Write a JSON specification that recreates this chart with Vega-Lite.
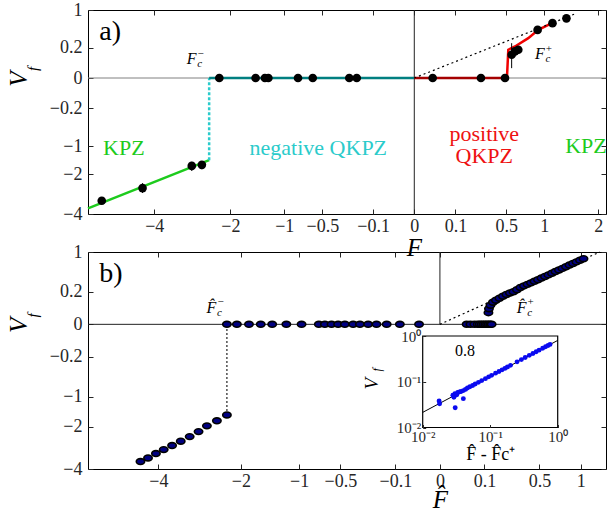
{
  "$schema": "https://vega.github.io/schema/vega-lite/v6.json",
  "padding": {"left": 6, "top": 0, "right": 0, "bottom": 0},
  "background": "white",
  "spacing": 38,
  "bounds": "flush",
  "config": {
    "font": "Liberation Serif",
    "view": {"stroke": "black", "strokeWidth": 1},
    "axis": {"grid": false, "domain": false, "labelFont": "Liberation Serif", "labelFontSize": 18, "labelColor": "#262626", "tickColor": "#262626", "tickSize": -5, "labelPadding": 11, "titleFont": "Liberation Serif", "titleFontStyle": "italic", "titleFontWeight": "normal", "titleColor": "black", "labelFlush": false, "labelOverlap": false, "labelBound": false},
    "style": {"guide-label": {"font": "Liberation Serif"}, "guide-title": {"font": "Liberation Serif"}},
    "text": {"font": "Liberation Serif"}
  },
  "datasets": {
    "a_zero": [{"x": -6.3, "y": 0}, {"x": 2.175, "y": 0}],
    "a_vline": [{"x": 0, "y": -4, "y2": 1}],
    "a_green": [{"x": -6.3, "y": -3.68}, {"x": -2.49, "y": -1.46}],
    "a_cyanv": [{"x": -2.49, "y": -1.46, "y2": 0}],
    "a_teal": [{"x": -2.49, "y": 0}, {"x": 0, "y": 0}],
    "a_redh": [{"x": 0, "y": 0}, {"x": 0.508, "y": 0}],
    "a_redc": [{"x": 0.508, "y": 0}, {"x": 0.523, "y": 0.173}, {"x": 0.6, "y": 0.215}, {"x": 0.769, "y": 0.343}, {"x": 0.91, "y": 0.502}, {"x": 1.171, "y": 0.689}],
    "a_diag": [{"x": 0, "y": 0}, {"x": 1.56, "y": 0.906}],
    "a_err": [{"x": -4.37, "y": -2.39, "y2": -2.86}, {"x": -2.93, "y": -1.52, "y2": -1.87}, {"x": -2.67, "y": -1.5, "y2": -1.8}, {"x": 0.561, "y": 0.021, "y2": 0.262}],
    "a_pts": [
      {"x": -5.78, "y": -3.26}, {"x": -4.37, "y": -2.62}, {"x": -2.93, "y": -1.67}, {"x": -2.67, "y": -1.63},
      {"x": -2.25, "y": 0}, {"x": -1.49, "y": 0}, {"x": -1.32, "y": 0}, {"x": -1.26, "y": 0}, {"x": -0.8, "y": 0},
      {"x": -0.61, "y": 0}, {"x": -0.25, "y": 0}, {"x": -0.196, "y": 0}, {"x": 0.02, "y": 0}, {"x": 0.263, "y": 0},
      {"x": 0.487, "y": 0}, {"x": 0.561, "y": 0.117}, {"x": 0.6, "y": 0.153}, {"x": 0.64, "y": 0.173},
      {"x": 0.9, "y": 0.5}, {"x": 1.13, "y": 0.65}, {"x": 1.37, "y": 0.77}
    ],
    "a_F": [{"x": -2.935, "y": 0.075, "sign": "−"}, {"x": 0.935, "y": 0.1255, "sign": "+"}],
    "a_regions": [
      {"x": -4.99, "y": -1.05, "label": "KPZ", "kind": "KPZ"},
      {"x": -0.545, "y": -1.05, "label": "negative QKPZ", "kind": "negative"},
      {"x": 0.29, "y": -0.687, "label": "positive", "kind": "positive"},
      {"x": 0.29, "y": -1.31, "label": "QKPZ", "kind": "positive"},
      {"x": 1.745, "y": -1.0, "label": "KPZ", "kind": "KPZ"}
    ],
    "a_tag": [{"x": -5.87, "y": 0.467, "label": "a)"}],
    "a_vlab": [{"x": -6.3, "y": 0}],
    "b_zero": [{"x": -6.25, "y": 0}, {"x": 1.392, "y": 0}],
    "b_vline": [{"x": 0, "y": 0, "y2": 1}],
    "b_dotv": [{"x": -2.29, "y": -1.57, "y2": 0}],
    "b_diag": [{"x": 0, "y": 0}, {"x": 1.29, "y": 1.0}],
    "b_pts": [
      {"x": -4.525, "y": -3.6}, {"x": -4.3, "y": -3.41}, {"x": -4.07, "y": -3.19}, {"x": -3.85, "y": -3.0},
      {"x": -3.62, "y": -2.81}, {"x": -3.39, "y": -2.61}, {"x": -3.16, "y": -2.41}, {"x": -2.94, "y": -2.2},
      {"x": -2.74, "y": -1.97}, {"x": -2.51, "y": -1.78}, {"x": -2.29, "y": -1.57},
      {"x": -2.29, "y": 0}, {"x": -2.08, "y": 0}, {"x": -1.84, "y": 0}, {"x": -1.62, "y": 0}, {"x": -1.42, "y": 0},
      {"x": -1.19, "y": 0}, {"x": -0.966, "y": 0}, {"x": -0.74, "y": 0}, {"x": -0.668, "y": 0}, {"x": -0.593, "y": 0},
      {"x": -0.523, "y": 0}, {"x": -0.456, "y": 0}, {"x": -0.38, "y": 0}, {"x": -0.323, "y": 0}, {"x": -0.26, "y": 0},
      {"x": -0.203, "y": 0}, {"x": -0.143, "y": 0}, {"x": -0.081, "y": 0}, {"x": -0.022, "y": 0},
      {"x": 0.036, "y": 0}, {"x": 0.047, "y": 0}, {"x": 0.06, "y": 0}, {"x": 0.072, "y": 0}, {"x": 0.08, "y": 0},
      {"x": 0.088, "y": 0}, {"x": 0.096, "y": 0}, {"x": 0.104, "y": 0}, {"x": 0.112, "y": 0}, {"x": 0.12, "y": 0},
      {"x": 0.128, "y": 0}, {"x": 0.135, "y": 0},
      {"x": 0.1188, "y": 0.0261}, {"x": 0.1213, "y": 0.047}, {"x": 0.1288, "y": 0.0703}, {"x": 0.1419, "y": 0.094},
      {"x": 0.1584, "y": 0.1117}, {"x": 0.1788, "y": 0.131}, {"x": 0.2005, "y": 0.1517}, {"x": 0.2234, "y": 0.1706},
      {"x": 0.2475, "y": 0.1881}, {"x": 0.2729, "y": 0.204}, {"x": 0.2995, "y": 0.2297}, {"x": 0.3273, "y": 0.2598},
      {"x": 0.3564, "y": 0.2828}, {"x": 0.3868, "y": 0.3052}, {"x": 0.4183, "y": 0.3286}, {"x": 0.4511, "y": 0.3544},
      {"x": 0.4851, "y": 0.3812}, {"x": 0.5204, "y": 0.409}, {"x": 0.5569, "y": 0.4377}, {"x": 0.5946, "y": 0.4675},
      {"x": 0.6336, "y": 0.5001}, {"x": 0.6739, "y": 0.5319}, {"x": 0.7154, "y": 0.5646}, {"x": 0.758, "y": 0.5983},
      {"x": 0.8019, "y": 0.6352}, {"x": 0.8471, "y": 0.6708}, {"x": 0.8936, "y": 0.7076}, {"x": 0.9411, "y": 0.7453},
      {"x": 0.99, "y": 0.7863}, {"x": 1.0402, "y": 0.8235}
    ],
    "b_F": [{"x": -2.633, "y": 0.053, "sign": "−"}, {"x": 0.337, "y": 0.053, "sign": "+"}],
    "b_tag": [{"x": -5.86, "y": 0.49, "label": "b)"}],
    "b_vlab": [{"x": -6.25, "y": 0}],
    "inset_frame": [{"x": 0.01, "x2": 1, "y": 0.01, "y2": 1}],
    "inset_pts": [
      {"x": 0.0175, "y": 0.038}, {"x": 0.0178, "y": 0.033}, {"x": 0.028, "y": 0.051}, {"x": 0.029, "y": 0.046},
      {"x": 0.0303, "y": 0.027}, {"x": 0.03, "y": 0.055}, {"x": 0.032, "y": 0.052}, {"x": 0.033, "y": 0.058},
      {"x": 0.035, "y": 0.06}, {"x": 0.037, "y": 0.061}, {"x": 0.04, "y": 0.0427}, {"x": 0.04, "y": 0.064},
      {"x": 0.043, "y": 0.068}, {"x": 0.046, "y": 0.073}, {"x": 0.05, "y": 0.078}, {"x": 0.055, "y": 0.083},
      {"x": 0.06, "y": 0.089}, {"x": 0.067, "y": 0.097}, {"x": 0.075, "y": 0.106}, {"x": 0.085, "y": 0.117},
      {"x": 0.095, "y": 0.128}, {"x": 0.105, "y": 0.138}, {"x": 0.12, "y": 0.154}, {"x": 0.135, "y": 0.168},
      {"x": 0.15, "y": 0.182}, {"x": 0.165, "y": 0.196}, {"x": 0.18, "y": 0.21}, {"x": 0.2, "y": 0.228},
      {"x": 0.25, "y": 0.272}, {"x": 0.29, "y": 0.305}, {"x": 0.33, "y": 0.338}, {"x": 0.38, "y": 0.378},
      {"x": 0.43, "y": 0.415}, {"x": 0.48, "y": 0.452}, {"x": 0.53, "y": 0.49}, {"x": 0.6, "y": 0.54},
      {"x": 0.66, "y": 0.58}, {"x": 0.72, "y": 0.62}, {"x": 0.77, "y": 0.655}
    ],
    "inset_line": [{"x": 0.01, "y": 0.0214}, {"x": 1, "y": 0.8}],
    "inset_text": [{"x": 0.0423, "y": 0.47, "label": "0.8"}],
    "inset_vlab": [{"x": 0.01, "y": 0.1}]
  },
  "vconcat": [
    {
      "width": 518,
      "height": 204,
      "resolve": {"scale": {"x": "independent", "y": "independent"}},
      "layer": [
        {
          "encoding": {
            "x": {"field": "x", "type": "quantitative", "scale": {"type": "sqrt", "domain": [-6.3, 2.175], "nice": false, "zero": false},
              "axis": {"orient": "bottom", "values": [-4, -2, -1, -0.5, -0.1, 0, 0.1, 0.5, 1, 2], "format": "~g", "labelFont": "Liberation Serif", "labelFontSize": 18, "labelPadding": 8, "title": "F", "titleFont": "Liberation Serif", "titleFontSize": 25, "titleX": 326, "titlePadding": 0}},
            "y": {"field": "y", "type": "quantitative", "scale": {"type": "sqrt", "domain": [-4, 1], "nice": false, "zero": false},
              "axis": {"orient": "left", "values": [-4, -2, -1, -0.2, 0, 0.2, 1], "format": "~g", "labelFont": "Liberation Serif", "labelFontSize": 18, "title": null}}
          },
          "layer": [
            {"data": {"name": "a_zero"}, "mark": {"type": "line", "color": "#808080", "strokeWidth": 1}},
            {"data": {"name": "a_vline"}, "mark": {"type": "rule", "color": "#222222", "strokeWidth": 1}, "encoding": {"y2": {"field": "y2"}}},
            {"data": {"name": "a_green"}, "mark": {"type": "line", "color": "#1DCB1D", "strokeWidth": 2.5}},
            {"data": {"name": "a_cyanv"}, "mark": {"type": "rule", "color": "#2BCBCB", "strokeWidth": 2.5, "strokeDash": [3, 2]}, "encoding": {"y2": {"field": "y2"}}},
            {"data": {"name": "a_teal"}, "mark": {"type": "line", "color": "#007F80", "strokeWidth": 2.5}},
            {"data": {"name": "a_redh"}, "mark": {"type": "line", "color": "#A50000", "strokeWidth": 2.5}},
            {"data": {"name": "a_redc"}, "mark": {"type": "line", "color": "#F00000", "strokeWidth": 2.5}},
            {"data": {"name": "a_diag"}, "mark": {"type": "line", "color": "black", "strokeWidth": 1.2, "strokeDash": [2, 3]}},
            {"data": {"name": "a_err"}, "mark": {"type": "rule", "color": "black", "strokeWidth": 1}, "encoding": {"y2": {"field": "y2"}}},
            {"data": {"name": "a_pts"}, "mark": {"type": "point", "shape": "circle", "filled": true, "color": "black", "size": 75, "opacity": 1}},
            {"data": {"name": "a_F"}, "mark": {"type": "text", "font": "Liberation Serif", "fontStyle": "italic", "fontSize": 16, "align": "center", "baseline": "middle", "color": "black"}, "encoding": {"text": {"value": "F"}}},
            {"data": {"name": "a_F"}, "mark": {"type": "text", "font": "Liberation Serif", "fontStyle": "italic", "fontSize": 11, "align": "center", "baseline": "middle", "dx": 8, "dy": 5, "color": "black"}, "encoding": {"text": {"value": "c"}}},
            {"data": {"name": "a_F"}, "mark": {"type": "text", "font": "Liberation Serif", "fontSize": 11, "align": "center", "baseline": "middle", "dx": 9, "dy": -5, "color": "black"}, "encoding": {"text": {"field": "sign"}}},
            {"data": {"name": "a_regions"}, "mark": {"type": "text", "font": "Liberation Serif", "fontSize": 22, "align": "center", "baseline": "middle"},
              "encoding": {"text": {"field": "label"}, "color": {"field": "kind", "type": "nominal", "legend": null, "scale": {"domain": ["KPZ", "negative", "positive"], "range": ["#1DCB1D", "#2BCBCB", "#EE1111"]}}}},
            {"data": {"name": "a_tag"}, "mark": {"type": "text", "font": "Liberation Serif", "fontSize": 28, "align": "left", "baseline": "middle", "color": "black"}, "encoding": {"text": {"field": "label"}}},
            {"data": {"name": "a_vlab"}, "mark": {"type": "text", "font": "Liberation Serif", "fontSize": 25, "fontStyle": "italic", "angle": 270, "align": "center", "baseline": "middle", "dx": -1, "dy": -69, "color": "black"},
              "encoding": {"text": {"value": "V"}}},
            {"data": {"name": "a_vlab"}, "mark": {"type": "text", "font": "Liberation Serif", "fontSize": 15, "fontStyle": "italic", "angle": 270, "align": "center", "baseline": "middle", "dx": 9, "dy": -55, "color": "black"},
              "encoding": {"text": {"value": "f"}}}
          ]
        },
        {
          "data": {"name": "a_zero"},
          "mark": {"type": "line", "opacity": 0},
          "encoding": {
            "x": {"field": "x", "type": "quantitative", "scale": {"type": "sqrt", "domain": [-6.3, 2.175], "nice": false, "zero": false},
              "axis": {"orient": "top", "values": [-4, -2, -1, -0.5, -0.1, 0, 0.1, 0.5, 1, 2], "labels": false, "title": null}},
            "y": {"field": "y", "type": "quantitative", "scale": {"type": "sqrt", "domain": [-4, 1], "nice": false, "zero": false},
              "axis": {"orient": "right", "values": [-4, -2, -1, -0.2, 0, 0.2, 1], "labels": false, "title": null}}
          }
        }
      ]
    },
    {
      "width": 518,
      "height": 217,
      "resolve": {"scale": {"x": "independent", "y": "independent"}},
      "layer": [
        {
          "encoding": {
            "x": {"field": "x", "type": "quantitative", "scale": {"type": "sqrt", "domain": [-6.25, 1.392], "nice": false, "zero": false},
              "axis": {"orient": "bottom", "values": [-4, -2, -1, -0.5, -0.1, 0, 0.1, 0.5, 1], "format": "~g", "labelFont": "Liberation Serif", "labelFontSize": 18, "labelPadding": 8, "title": "F\u0302", "titleFont": "Liberation Serif", "titleFontSize": 25, "titleX": 352, "titlePadding": -3}},
            "y": {"field": "y", "type": "quantitative", "scale": {"type": "sqrt", "domain": [-4, 1], "nice": false, "zero": false},
              "axis": {"orient": "left", "values": [-4, -2, -1, -0.2, 0, 0.2, 1], "format": "~g", "labelFont": "Liberation Serif", "labelFontSize": 18, "title": null}}
          },
          "layer": [
            {"data": {"name": "b_zero"}, "mark": {"type": "line", "color": "#222222", "strokeWidth": 1}},
            {"data": {"name": "b_vline"}, "mark": {"type": "rule", "color": "#222222", "strokeWidth": 1}, "encoding": {"y2": {"field": "y2"}}},
            {"data": {"name": "b_dotv"}, "mark": {"type": "rule", "color": "#333333", "strokeWidth": 1.3, "strokeDash": [2, 2]}, "encoding": {"y2": {"field": "y2"}}},
            {"data": {"name": "b_diag"}, "mark": {"type": "line", "color": "black", "strokeWidth": 1.2, "strokeDash": [2, 3]}},
            {"data": {"name": "b_pts"}, "mark": {"type": "point", "shape": "M -1 0 C -1 -0.3866 -0.5523 -0.7 0 -0.7 C 0.5523 -0.7 1 -0.3866 1 0 C 1 0.3866 0.5523 0.7 0 0.7 C -0.5523 0.7 -1 0.3866 -1 0 Z", "filled": true, "fill": "#000080", "stroke": "black", "strokeWidth": 1.6, "size": 70, "opacity": 1}},
            {"data": {"name": "b_F"}, "mark": {"type": "text", "font": "Liberation Serif", "fontStyle": "italic", "fontSize": 16, "align": "center", "baseline": "middle", "color": "black"}, "encoding": {"text": {"value": "F\u0302"}}},
            {"data": {"name": "b_F"}, "mark": {"type": "text", "font": "Liberation Serif", "fontStyle": "italic", "fontSize": 11, "align": "center", "baseline": "middle", "dx": 8, "dy": 5, "color": "black"}, "encoding": {"text": {"value": "c"}}},
            {"data": {"name": "b_F"}, "mark": {"type": "text", "font": "Liberation Serif", "fontSize": 11, "align": "center", "baseline": "middle", "dx": 9, "dy": -6, "color": "black"}, "encoding": {"text": {"field": "sign"}}},
            {"data": {"name": "b_tag"}, "mark": {"type": "text", "font": "Liberation Serif", "fontSize": 28, "align": "left", "baseline": "middle", "color": "black"}, "encoding": {"text": {"field": "label"}}},
            {"data": {"name": "b_vlab"}, "mark": {"type": "text", "font": "Liberation Serif", "fontSize": 25, "fontStyle": "italic", "angle": 270, "align": "center", "baseline": "middle", "dx": -1, "dy": -69, "color": "black"},
              "encoding": {"text": {"value": "V"}}},
            {"data": {"name": "b_vlab"}, "mark": {"type": "text", "font": "Liberation Serif", "fontSize": 15, "fontStyle": "italic", "angle": 270, "align": "center", "baseline": "middle", "dx": 9, "dy": -55, "color": "black"},
              "encoding": {"text": {"value": "f"}}}
          ]
        },
        {
          "data": {"name": "b_zero"},
          "mark": {"type": "line", "opacity": 0},
          "encoding": {
            "x": {"field": "x", "type": "quantitative", "scale": {"type": "sqrt", "domain": [-6.25, 1.392], "nice": false, "zero": false},
              "axis": {"orient": "top", "values": [-4, -2, -1, -0.5, -0.1, 0, 0.1, 0.5, 1], "labels": false, "title": null}},
            "y": {"field": "y", "type": "quantitative", "scale": {"type": "sqrt", "domain": [-4, 1], "nice": false, "zero": false},
              "axis": {"orient": "right", "values": [-4, -2, -1, -0.2, 0, 0.2, 1], "labels": false, "title": null}}
          }
        },
        {
          "encoding": {
            "x": {"field": "x", "type": "quantitative", "scale": {"type": "log", "domain": [0.01, 1], "range": [334.7, 469.7], "nice": false},
              "axis": {"orient": "bottom", "offset": -41.5, "values": [0.01, 0.1, 1], "labelExpr": "datum.value < 0.05 ? '10⁻²' : datum.value < 0.5 ? '10⁻¹' : '10⁰'", "tickSize": -3, "labelPadding": 5, "labelFont": "Liberation Serif", "labelFontSize": 15, "title": "F\u0302 - F\u0302c\u207A", "titleFont": "Liberation Serif", "titleFontSize": 18, "titleFontStyle": "normal", "titlePadding": 1, "zindex": 1}},
            "y": {"field": "y", "type": "quantitative", "scale": {"type": "log", "domain": [0.01, 1], "range": [175.5, 84], "nice": false},
              "axis": {"orient": "left", "offset": -334.7, "values": [0.01, 0.1, 1], "labelExpr": "datum.value < 0.05 ? '10⁻²' : datum.value < 0.5 ? '10⁻¹' : '10⁰'", "tickSize": -3, "labelPadding": 5, "labelFont": "Liberation Serif", "labelFontSize": 15, "title": null, "zindex": 1}}
          },
          "layer": [
            {"data": {"name": "inset_frame"}, "mark": {"type": "rect", "fill": "white", "stroke": "black", "strokeWidth": 1.2},
              "encoding": {"x2": {"field": "x2"}, "y2": {"field": "y2"}}},
            {"data": {"name": "inset_line"}, "mark": {"type": "line", "color": "black", "strokeWidth": 1}},
            {"data": {"name": "inset_pts"}, "mark": {"type": "point", "shape": "circle", "filled": true, "color": "#0A0AF0", "size": 24, "opacity": 1}},
            {"data": {"name": "inset_text"}, "mark": {"type": "text", "font": "Liberation Serif", "fontSize": 16, "align": "center", "baseline": "middle", "color": "black"}, "encoding": {"text": {"field": "label"}}},
            {"data": {"name": "inset_vlab"}, "mark": {"type": "text", "font": "Liberation Serif", "fontSize": 19, "fontStyle": "italic", "angle": 270, "align": "center", "baseline": "middle", "dx": -2, "dy": -51, "color": "black"},
              "encoding": {"text": {"value": "V"}}},
            {"data": {"name": "inset_vlab"}, "mark": {"type": "text", "font": "Liberation Serif", "fontSize": 12, "fontStyle": "italic", "angle": 270, "align": "center", "baseline": "middle", "dx": 12, "dy": -46, "color": "black"},
              "encoding": {"text": {"value": "f"}}}
          ]
        }
      ]
    }
  ]
}
